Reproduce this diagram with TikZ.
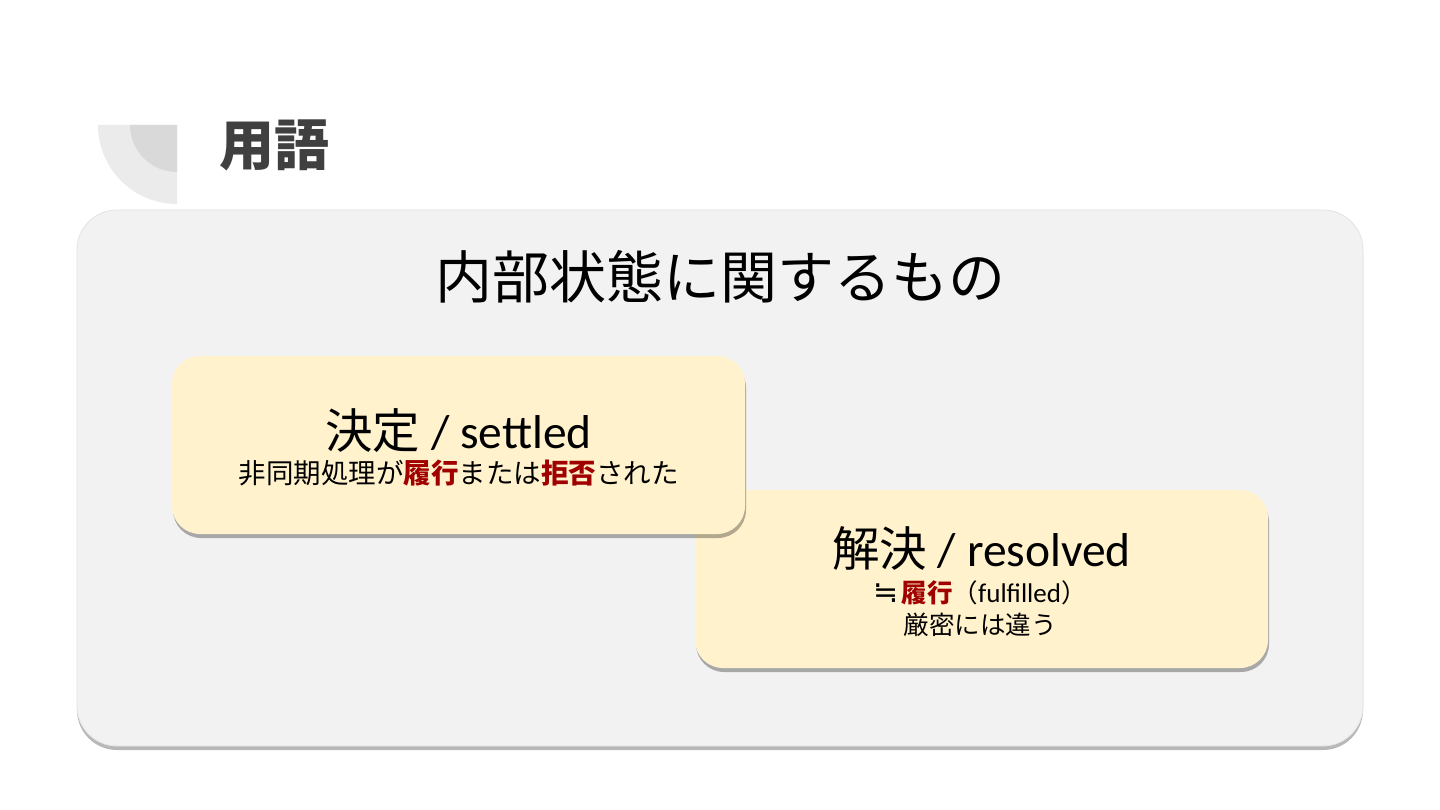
\documentclass[tikz,border=0pt]{standalone}
\usepackage{fontspec}
\setmainfont{Carlito}
\newfontfamily\cjk{Noto Sans CJK JP}
\newfontfamily\sym{DejaVu Sans}
\usetikzlibrary{shadows}
\definecolor{bigfill}{HTML}{F2F2F2}
\definecolor{bigline}{HTML}{E3E3E3}
\definecolor{cardfill}{HTML}{FFF2CC}
\definecolor{decolight}{HTML}{EBEBEB}
\definecolor{decodark}{HTML}{D9D9D9}
\definecolor{titlegray}{HTML}{404040}
\definecolor{accent}{HTML}{A00000}
\tikzset{
  panel/.style={rectangle, rounded corners=40pt, fill=bigfill, draw=bigline, line width=0.8pt,
    drop shadow={shadow xshift=0pt, shadow yshift=-4pt, fill=black, opacity=0.28},
    minimum width=1286pt, minimum height=536pt, inner sep=0pt},
  card/.style={rectangle, rounded corners=28pt, fill=cardfill, draw=none,
    drop shadow={shadow xshift=1pt, shadow yshift=-4pt, fill=black, opacity=0.30},
    minimum width=573pt, minimum height=178pt, inner sep=0pt},
  txt/.style={inner sep=0pt, anchor=center, text=black},
}
\newcommand{\hl}[1]{{\color{accent}\bfseries #1}}
\begin{document}
\begin{tikzpicture}[x=1pt,y=-1pt]
\useasboundingbox (0,0) rectangle (1440,810);
\fill[white] (0,0) rectangle (1440,810);
% corner decoration
\fill[decolight] (177,125) -- (98,125) arc[start angle=180, end angle=90, radius=79] -- cycle;
\fill[decodark] (177,125) -- (130,125) arc[start angle=180, end angle=90, radius=47] -- cycle;
\node[txt, anchor=west, text=titlegray] (title) at (219,145) {\fontsize{55}{60}\selectfont\cjk\bfseries 用語};
% main panel
\node[panel] (panel) at (720,478) {};
\node[txt] (head) at (720,277) {\fontsize{57}{62}\selectfont\cjk 内部状態に関するもの};
% cards
\node[card] (resolved) at (981.5,579) {};
\node[card] (settled) at (458.5,445) {};
\node[txt] (settledT) at (458.5,431) {\fontsize{47.5}{50}\selectfont{\cjk 決定} / settled};
\node[txt] (settledS) at (458.5,473) {\fontsize{27.5}{30}\selectfont\cjk 非同期処理が\hl{履行}または\hl{拒否}された};
\node[txt] (resolvedT) at (981.5,548) {\fontsize{47.5}{50}\selectfont{\cjk 解決} / resolved};
\node[txt] (resolvedS1) at (980,593) {{\fontsize{30}{30}\selectfont\sym ≒}\kern3pt{\fontsize{25.5}{28}\selectfont\cjk \hl{履行}（}{\fontsize{27}{28}\selectfont fulfilled}{\fontsize{25.5}{28}\selectfont\cjk ）}};
\node[txt] (resolvedS2) at (980,625) {\fontsize{25.5}{28}\selectfont\cjk 厳密には違う};
\end{tikzpicture}
\end{document}
